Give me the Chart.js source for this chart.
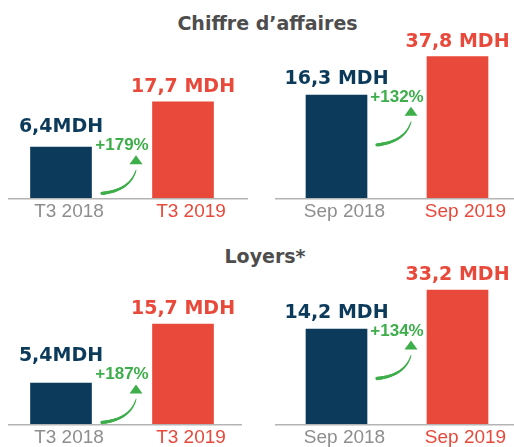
<!DOCTYPE html>
<html>
<head>
<meta charset="utf-8">
<script src="https://cdn.jsdelivr.net/npm/chart.js@4.4.0/dist/chart.umd.min.js"></script>
<style>
  html, body { margin: 0; padding: 0; background: #fff; }
  body { width: 514px; height: 447px; overflow: hidden; position: relative; }
  .titre {
    position: absolute; text-align: center; white-space: nowrap;
    font-family: "DejaVu Sans", sans-serif; font-weight: bold;
    font-size: 19px; line-height: 19px; color: #4d4d4d;
  }
  canvas { position: absolute; }
</style>
</head>
<body>
<div class="titre" style="left:0;width:535px;top:14px">Chiffre d’affaires</div>
<div class="titre" style="left:0;width:530px;top:247px">Loyers*</div>
<canvas id="caT3" width="257" height="232" style="left:0;top:0"></canvas>
<canvas id="caSep" width="280" height="232" style="left:257px;top:0"></canvas>
<canvas id="loyT3" width="257" height="226" style="left:0;top:232px"></canvas>
<canvas id="loySep" width="280" height="226" style="left:257px;top:232px"></canvas>
<script>
// données
const labelsT3 = ['T3 2018', 'T3 2019'];
const labelsSep = ['Sep 2018', 'Sep 2019'];

const caT3 = [6.4, 17.7];
const caSep = [16.3, 37.8];
const loyT3 = [5.4, 15.7];
const loySep = [14.2, 33.2];

const caT3Txt = ['6,4MDH', '17,7 MDH'];
const caSepTxt = ['16,3 MDH', '37,8 MDH'];
const loyT3Txt = ['5,4MDH', '15,7 MDH'];
const loySepTxt = ['14,2 MDH', '33,2 MDH'];

const hausse = ['+179%', '+132%', '+187%', '+134%'];

const bleu = '#0b3a5b';
const rouge = '#e8493a';
const vert = '#3dae4a';
const gris = '#8e8e8e';

// étiquettes au-dessus des barres + flèche verte
const decor = {
    id: 'decor',
    afterDatasetsDraw(chart, args, opts) {
        const ctx = chart.ctx;
        const bars = chart.getDatasetMeta(0).data;
        const b1 = bars[0], b2 = bars[1];
        const area = chart.chartArea;

        // ligne de base
        ctx.save();
        ctx.strokeStyle = '#b4b4b4';
        ctx.lineWidth = 1.5;
        ctx.beginPath();
        ctx.moveTo(area.left + opts.ligne[0], area.bottom + 0.75);
        ctx.lineTo(area.right + opts.ligne[1], area.bottom + 0.75);
        ctx.stroke();

        // flèche
        const mid = ((b1.x + b1.width / 2) + (b2.x - b2.width / 2)) / 2;
        const yT = (b1.y + b2.y) / 2 + 26;
        ctx.fillStyle = vert;
        ctx.font = 'bold 17px "Liberation Sans", Arial, sans-serif';
        ctx.textAlign = 'center';
        ctx.textBaseline = 'alphabetic';
        ctx.fillText(opts.hausse, mid, yT);

        const ax = mid + 14;
        ctx.beginPath();
        ctx.moveTo(ax, yT + 5);
        ctx.lineTo(ax + 6.5, yT + 14);
        ctx.lineTo(ax - 6.5, yT + 14);
        ctx.closePath();
        ctx.fill();

        const p0 = [mid - 20, yT + 43], p1 = [mid + 8, yT + 40], p2 = [ax, yT + 20];
        ctx.strokeStyle = vert;
        ctx.lineCap = 'round';
        let prev = p0;
        for (let i = 1; i <= 24; i++) {
            const t = i / 24, u = 1 - t;
            const pt = [u * u * p0[0] + 2 * u * t * p1[0] + t * t * p2[0],
                        u * u * p0[1] + 2 * u * t * p1[1] + t * t * p2[1]];
            ctx.lineWidth = 3.4 - 2.4 * t;
            ctx.beginPath();
            ctx.moveTo(prev[0], prev[1]);
            ctx.lineTo(pt[0], pt[1]);
            ctx.stroke();
            prev = pt;
        }

        // valeurs
        ctx.font = 'bold 19px "DejaVu Sans", sans-serif';
        ctx.fillStyle = bleu;
        ctx.fillText(opts.textes[0], b1.x, Math.min(b1.y - 10, yT - 18));
        ctx.fillStyle = rouge;
        ctx.fillText(opts.textes[1], b2.x, b2.y - 10);
        ctx.restore();
    }
};

function makeChart(id, labels, values, textes, pct, yMin, yMax, gauche, ligne) {
    const ctx = document.getElementById(id).getContext('2d');
    return new Chart(ctx, {
        type: 'bar',
        data: {
            labels: labels,
            datasets: [{
                data: values,
                base: yMin,
                backgroundColor: [bleu, rouge],
                borderWidth: 0,
                barThickness: 61
            }]
        },
        options: {
            responsive: false,
            animation: false,
            devicePixelRatio: 1,
            layout: {
                padding: gauche ? { left: 0, right: 13, top: 0, bottom: 7 }
                                : { left: 19, right: 19, top: 0, bottom: 7 }
            },
            scales: {
                x: {
                    grid: { display: false, drawTicks: false },
                    border: { display: false },
                    ticks: {
                        color: (c) => c.index === 1 ? rouge : gris,
                        font: { family: '"Liberation Sans", Arial, sans-serif', size: 19, lineHeight: 1 },
                        padding: 4,
                        labelOffset: 8,
                        maxRotation: 0,
                        autoSkip: false
                    }
                },
                y: {
                    display: false,
                    min: yMin,
                    max: yMax
                }
            },
            plugins: {
                legend: { display: false },
                tooltip: { enabled: false },
                decor: { textes: textes, hausse: pct, ligne: ligne }
            }
        },
        plugins: [decor]
    });
}

makeChart('caT3', labelsT3, caT3, caT3Txt, hausse[0], -6.32, 43.07, true, [8, 4]);
makeChart('caSep', labelsSep, caSep, caSepTxt, hausse[1], -41.52, 69.63, false, [-1, -4]);
makeChart('loyT3', labelsT3, loyT3, loyT3Txt, hausse[2], -1.76, 31.76, true, [8, -2]);
makeChart('loySep', labelsSep, loySep, loySepTxt, hausse[3], -32.08, 61.46, false, [-1, -4]);
</script>
</body>
</html>
